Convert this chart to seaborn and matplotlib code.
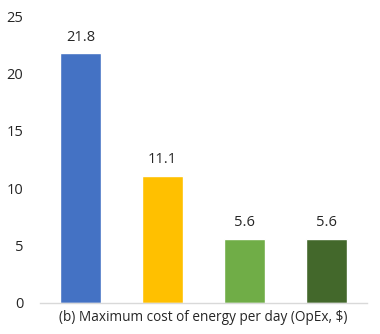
import matplotlib
matplotlib.use("Agg")
import matplotlib.pyplot as plt
import seaborn as sns
import pandas as pd

categories = ["A", "B", "C", "D"]
values = [21.8, 11.1, 5.6, 5.6]
colors = ["#4472C4", "#FFC000", "#70AD47", "#43682B"]
yticks = [0, 5, 10, 15, 20, 25]
xlabel = "(b) Maximum cost of energy per day (OpEx, \\$)"

sns.set_theme(style="white")
plt.rcParams['font.family'] = ['Open Sans', 'DejaVu Sans']

df = pd.DataFrame({"cat": categories, "val": values})
fig = plt.figure(figsize=(3.8, 3.34), dpi=100)
ax = fig.add_axes([0.105, 0.093, 0.861, 0.858])
sns.barplot(data=df, x="cat", y="val", hue="cat", palette=colors, width=0.5,
            legend=False, ax=ax, saturation=1)
ax.set_ylim(0, 25)
ax.set_xlim(-0.5, 3.5)
ax.set_yticks(yticks)
ax.set_yticklabels([str(t) for t in yticks], fontsize=10.5, color="#262626")
ax.set_xticks([])
ax.set_ylabel("")
ax.set_xlabel(xlabel, fontsize=9.8, color="#262626", labelpad=5)
for s in ["top", "right", "left"]:
    ax.spines[s].set_visible(False)
ax.spines["bottom"].set_color("#D9D9D9")
ax.spines["bottom"].set_linewidth(1)
ax.tick_params(axis="y", length=0, pad=12)
for c in ax.containers:
    ax.bar_label(c, fmt="%.1f", padding=6, fontsize=10.5, color="#262626")
fig.savefig("out.png", dpi=100)
